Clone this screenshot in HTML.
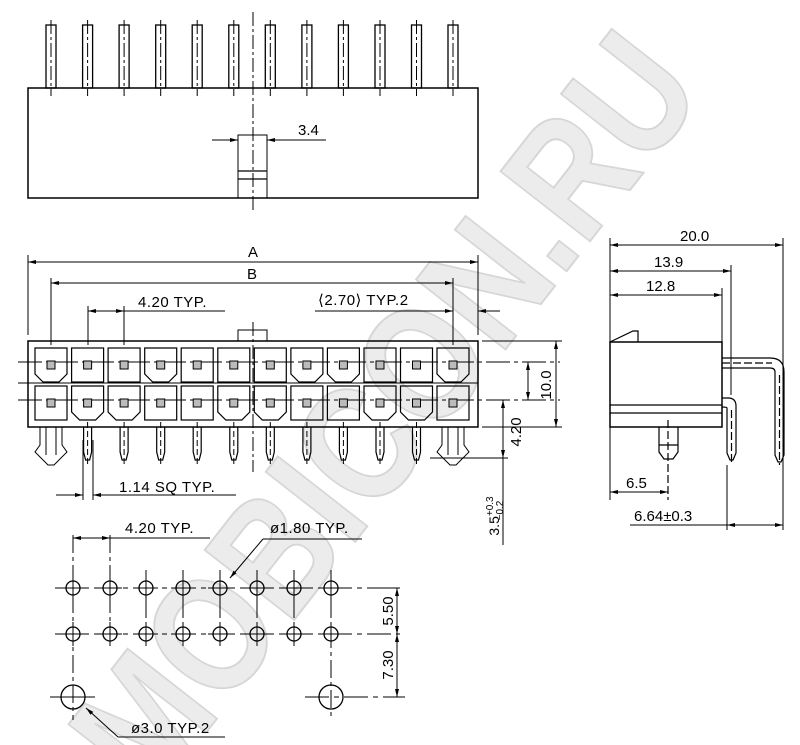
<!DOCTYPE html>
<html><head><meta charset="utf-8"><style>
html,body{margin:0;padding:0;background:#fff;width:800px;height:745px;overflow:hidden;}
svg{display:block;}
text{font-family:"Liberation Sans",sans-serif;fill:#000;}
</style></head><body>
<svg width="800" height="745" viewBox="0 0 800 745" xmlns="http://www.w3.org/2000/svg" style="overflow:hidden">
<defs>
<g id="tpin"><rect x="-5" y="25" width="10" height="63" fill="none" stroke="#000" stroke-width="1.3"/><line x1="0" y1="20" x2="0" y2="96" stroke="#000" stroke-width="1" stroke-dasharray="14,3,3,3"/></g>
<g id="cellS"><rect x="-16" y="-17" width="32" height="34" fill="none" stroke="#000" stroke-width="1.2"/><rect x="-4" y="-4" width="8" height="8" fill="#bbb" stroke="#000"/></g>
<g id="cellC"><path d="M-16,-17 H16 V9 L8,17 H-8 L-16,9 Z" fill="none" stroke="#000" stroke-width="1.2"/><rect x="-4" y="-4" width="8" height="8" fill="#bbb" stroke="#000"/></g>
<g id="fpin"><path d="M-4,427 V452 L-2,460 H2 L4,452 V427" fill="none" stroke="#000" stroke-width="1.2"/><line x1="0" y1="422" x2="0" y2="466" stroke="#000" stroke-dasharray="6,3"/></g>
<g id="hs"><circle r="7" fill="none" stroke="#000" stroke-width="1.3"/><line x1="-12" y1="0" x2="12" y2="0" stroke="#000"/><line x1="0" y1="-12" x2="0" y2="12" stroke="#000"/></g>
<marker id="ar" markerWidth="8" markerHeight="6" refX="8" refY="3" orient="auto-start-reverse" markerUnits="userSpaceOnUse"><path d="M0,1 L8,3 L0,5Z" fill="#000"/></marker>
</defs>
<text x="0" y="0" transform="translate(395,420) rotate(-52)" text-anchor="middle" dominant-baseline="middle" font-size="165" font-weight="bold" textLength="900" lengthAdjust="spacingAndGlyphs" style="fill:#ececec;stroke:#d6d6d6;stroke-width:2">MOBICON.RU</text>

<g stroke="#000" fill="none" stroke-width="1.2">
<rect x="28" y="88" width="450" height="110" stroke-width="1.5"/>
<line x1="253" y1="12" x2="253" y2="210" stroke-dasharray="14,3,3,3" stroke-width="1"/>
<rect x="238" y="135" width="29" height="63" stroke-width="1"/>
<line x1="238" y1="171" x2="267" y2="171"/><line x1="238" y1="179" x2="267" y2="179"/>
<line x1="212" y1="140" x2="238" y2="140" marker-end="url(#ar)" stroke-width="1"/>
<line x1="267" y1="140" x2="326" y2="140" marker-start="url(#ar)" stroke-width="1"/>
</g>
<use href="#tpin" x="51"/><use href="#tpin" x="87.6"/><use href="#tpin" x="124.1"/><use href="#tpin" x="160.7"/><use href="#tpin" x="197.2"/><use href="#tpin" x="233.8"/><use href="#tpin" x="270.3"/><use href="#tpin" x="306.9"/><use href="#tpin" x="343.4"/><use href="#tpin" x="380"/><use href="#tpin" x="416.5"/><use href="#tpin" x="453"/>
<text x="298" y="135" font-size="15">3.4</text>

<g stroke="#000" fill="none" stroke-width="1">
<rect x="28" y="341" width="450" height="86" stroke-width="1.5"/>
<rect x="238" y="330" width="29" height="11"/>
<line x1="253" y1="322" x2="253" y2="472" stroke-dasharray="14,3,3,3"/>
<line x1="18" y1="362" x2="560" y2="362" stroke-dasharray="24,4,4,4"/>
<line x1="18" y1="400" x2="560" y2="400" stroke-dasharray="24,4,4,4"/>
<line x1="18" y1="383" x2="478" y2="383"/>
<line x1="28" y1="255" x2="28" y2="335"/><line x1="478" y1="255" x2="478" y2="335"/>
<line x1="28" y1="262" x2="478" y2="262" marker-start="url(#ar)" marker-end="url(#ar)"/>
<line x1="51" y1="278" x2="51" y2="345"/><line x1="453" y1="278" x2="453" y2="345"/>
<line x1="51" y1="283" x2="453" y2="283" marker-start="url(#ar)" marker-end="url(#ar)"/>
<line x1="88" y1="306" x2="88" y2="345"/><line x1="124" y1="306" x2="124" y2="345"/>
<line x1="88" y1="311" x2="124" y2="311" marker-start="url(#ar)" marker-end="url(#ar)"/>
<line x1="124" y1="311" x2="225" y2="311"/>
<line x1="315" y1="311" x2="453" y2="311" marker-end="url(#ar)"/>
<line x1="478" y1="311" x2="500" y2="311" marker-start="url(#ar)"/>
<line x1="482" y1="341" x2="562" y2="341"/><line x1="482" y1="427" x2="562" y2="427"/>
<line x1="556" y1="341" x2="556" y2="427" marker-start="url(#ar)" marker-end="url(#ar)"/>
<line x1="528" y1="362" x2="528" y2="400" marker-start="url(#ar)" marker-end="url(#ar)"/>
<line x1="503" y1="400" x2="503" y2="458" marker-start="url(#ar)" marker-end="url(#ar)"/>
<line x1="503" y1="458" x2="503" y2="545"/>
<line x1="430" y1="458" x2="508" y2="458"/>
<line x1="83" y1="440" x2="83" y2="500"/><line x1="93" y1="440" x2="93" y2="500"/>
<line x1="56" y1="495" x2="83" y2="495" marker-end="url(#ar)"/>
<line x1="93" y1="495" x2="236" y2="495" marker-start="url(#ar)"/>
<path d="M40,427 V445 L35,452 L48,465 H54 L67,452 L62,445 V427"/>
<path d="M442,427 V445 L437,452 L450,465 H456 L469,452 L464,445 V427"/>
<line x1="46" y1="427" x2="46" y2="455"/><line x1="56" y1="427" x2="56" y2="455"/>
<line x1="448" y1="427" x2="448" y2="455"/><line x1="458" y1="427" x2="458" y2="455"/>
</g>
<use href="#cellC" x="51" y="365"/><use href="#cellS" x="87.6" y="365"/><use href="#cellS" x="124.1" y="365"/><use href="#cellC" x="160.7" y="365"/><use href="#cellS" x="197.2" y="365"/><use href="#cellS" x="233.8" y="365"/><use href="#cellS" x="270.3" y="365"/><use href="#cellC" x="306.9" y="365"/><use href="#cellC" x="343.4" y="365"/><use href="#cellS" x="380" y="365"/><use href="#cellS" x="416.5" y="365"/><use href="#cellC" x="453" y="365"/>
<use href="#cellS" x="51" y="403"/><use href="#cellC" x="87.6" y="403"/><use href="#cellC" x="124.1" y="403"/><use href="#cellS" x="160.7" y="403"/><use href="#cellS" x="197.2" y="403"/><use href="#cellC" x="233.8" y="403"/><use href="#cellC" x="270.3" y="403"/><use href="#cellS" x="306.9" y="403"/><use href="#cellS" x="343.4" y="403"/><use href="#cellC" x="380" y="403"/><use href="#cellC" x="416.5" y="403"/><use href="#cellS" x="453" y="403"/>
<use href="#fpin" x="87.6"/><use href="#fpin" x="124.1"/><use href="#fpin" x="160.7"/><use href="#fpin" x="197.2"/><use href="#fpin" x="233.8"/><use href="#fpin" x="270.3"/><use href="#fpin" x="306.9"/><use href="#fpin" x="343.4"/><use href="#fpin" x="380"/><use href="#fpin" x="416.5"/>
<text x="248" y="257" font-size="15">A</text>
<text x="247" y="279" font-size="15">B</text>
<text x="138" y="307" font-size="15" letter-spacing="0.5">4.20 TYP.</text>
<text x="318" y="305" font-size="15" letter-spacing="0.5">⟨2.70⟩ TYP.2</text>
<text x="119" y="492" font-size="15" letter-spacing="0.5">1.14 SQ TYP.</text>
<text transform="translate(551,385) rotate(-90)" text-anchor="middle" font-size="15">10.0</text>
<text transform="translate(521,432) rotate(-90)" text-anchor="middle" font-size="15">4.20</text>
<text transform="translate(499,516) rotate(-90)" text-anchor="middle" font-size="14">3.5<tspan font-size="10" dy="-6">+0.3</tspan><tspan font-size="10" dx="-24" dy="10">−0.2</tspan></text>

<g stroke="#000" fill="none" stroke-width="1.2">
<rect x="610" y="342" width="112" height="85" stroke-width="1.5"/>
<line x1="610" y1="405" x2="722" y2="405"/><line x1="610" y1="413" x2="722" y2="413"/>
<path d="M610,342 L633,331 H638 V342"/>
<path d="M722,358 H770 Q784,358 784,372 V455 L781,462 H778 L775,455 V372 Q775,368 770,368 H722"/>
<line x1="722" y1="363" x2="772" y2="363" stroke-dasharray="8,3"/>
<line x1="779.5" y1="375" x2="779.5" y2="465" stroke-dasharray="8,3"/>
<path d="M722,398 H728 Q736,398 736,406 V453 L733,460 H730 L727,453 V408 Q727,407 722,407"/>
<line x1="731.5" y1="410" x2="731.5" y2="463" stroke-dasharray="8,3"/>
<path d="M659,427 V452 L664,459 H673 L678,452 V427"/>
<line x1="659" y1="445" x2="678" y2="445"/>
<line x1="668" y1="420" x2="668" y2="500" stroke-dasharray="8,3"/>
<line x1="610" y1="238" x2="610" y2="500" stroke-width="1"/>
<line x1="783" y1="238" x2="783" y2="530" stroke-width="1"/>
<line x1="731" y1="265" x2="731" y2="395" stroke-width="1"/>
<line x1="722" y1="288" x2="722" y2="342" stroke-width="1"/>
<line x1="727" y1="465" x2="727" y2="530" stroke-width="1"/>
<line x1="610" y1="245" x2="783" y2="245" marker-start="url(#ar)" marker-end="url(#ar)" stroke-width="1"/>
<line x1="610" y1="271" x2="731" y2="271" marker-start="url(#ar)" marker-end="url(#ar)" stroke-width="1"/>
<line x1="610" y1="295" x2="722" y2="295" marker-start="url(#ar)" marker-end="url(#ar)" stroke-width="1"/>
<line x1="610" y1="492" x2="668" y2="492" marker-start="url(#ar)" marker-end="url(#ar)" stroke-width="1"/>
<line x1="727" y1="525" x2="783" y2="525" marker-start="url(#ar)" marker-end="url(#ar)" stroke-width="1"/>
<line x1="630" y1="525" x2="727" y2="525" stroke-width="1"/>
</g>
<text x="680" y="241" font-size="15">20.0</text>
<text x="654" y="267" font-size="15">13.9</text>
<text x="646" y="291" font-size="15">12.8</text>
<text x="626" y="488" font-size="15">6.5</text>
<text x="634" y="521" font-size="15">6.64±0.3</text>

<g stroke="#000" fill="none" stroke-width="1">
<line x1="55" y1="588" x2="400" y2="588" stroke-dasharray="24,5,5,5"/>
<line x1="55" y1="634" x2="400" y2="634" stroke-dasharray="24,5,5,5"/>
<line x1="50" y1="697" x2="95" y2="697"/>
<line x1="305" y1="697" x2="405" y2="697" stroke-dasharray="24,5,5,5"/>
<line x1="73" y1="535" x2="73" y2="720" stroke-dasharray="18,4,4,4"/>
<line x1="110" y1="535" x2="110" y2="645" stroke-dasharray="18,4,4,4"/>
<line x1="146" y1="570" x2="146" y2="645" stroke-dasharray="18,4,4,4"/>
<line x1="183" y1="570" x2="183" y2="645" stroke-dasharray="18,4,4,4"/>
<line x1="220" y1="570" x2="220" y2="645" stroke-dasharray="18,4,4,4"/>
<line x1="257" y1="570" x2="257" y2="645" stroke-dasharray="18,4,4,4"/>
<line x1="294" y1="570" x2="294" y2="645" stroke-dasharray="18,4,4,4"/>
<line x1="331" y1="570" x2="331" y2="720" stroke-dasharray="18,4,4,4"/>
<line x1="73" y1="538" x2="110" y2="538" marker-start="url(#ar)" marker-end="url(#ar)"/>
<line x1="110" y1="538" x2="210" y2="538"/>
<line x1="263" y1="539" x2="362" y2="539"/>
<line x1="263" y1="539" x2="230" y2="578" marker-end="url(#ar)"/>
<line x1="118" y1="737" x2="225" y2="737"/>
<line x1="118" y1="737" x2="86" y2="708" marker-end="url(#ar)"/>
<line x1="370" y1="588" x2="400" y2="588"/>
<line x1="397" y1="588" x2="397" y2="634" marker-start="url(#ar)" marker-end="url(#ar)"/>
<line x1="397" y1="634" x2="397" y2="697" marker-start="url(#ar)" marker-end="url(#ar)"/>
<circle cx="73" cy="697" r="12" stroke-width="1.3"/><circle cx="331" cy="697" r="12" stroke-width="1.3"/>
</g>
<use href="#hs" x="73" y="588"/><use href="#hs" x="110" y="588"/><use href="#hs" x="146" y="588"/><use href="#hs" x="183" y="588"/><use href="#hs" x="220" y="588"/><use href="#hs" x="257" y="588"/><use href="#hs" x="294" y="588"/><use href="#hs" x="331" y="588"/>
<use href="#hs" x="73" y="634"/><use href="#hs" x="110" y="634"/><use href="#hs" x="146" y="634"/><use href="#hs" x="183" y="634"/><use href="#hs" x="220" y="634"/><use href="#hs" x="257" y="634"/><use href="#hs" x="294" y="634"/><use href="#hs" x="331" y="634"/>
<text x="125" y="533" font-size="15" letter-spacing="0.5">4.20 TYP.</text>
<text x="270" y="533" font-size="15" letter-spacing="0.5">ø1.80 TYP.</text>
<text x="131" y="733" font-size="15" letter-spacing="0.5">ø3.0 TYP.2</text>
<text transform="translate(393,611) rotate(-90)" text-anchor="middle" font-size="15">5.50</text>
<text transform="translate(393,665) rotate(-90)" text-anchor="middle" font-size="15">7.30</text>
</svg>
</body></html>
